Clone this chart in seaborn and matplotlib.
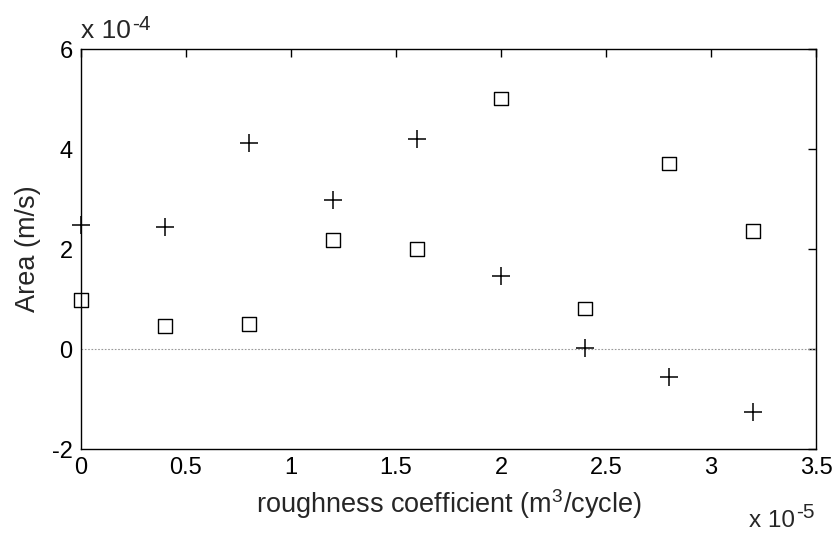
import matplotlib
matplotlib.use("Agg")
import matplotlib.pyplot as plt
import seaborn as sns
import pandas as pd

# values in units of 1e-5 (x) and 1e-4 (y)
roughness = [0.0, 0.4, 0.8, 1.2, 1.6, 2.0, 2.4, 2.8, 3.2]
area_square = [0.98, 0.46, 0.50, 2.18, 2.00, 5.01, 0.81, 3.71, 2.36]
area_plus = [2.48, 2.45, 4.12, 2.99, 4.21, 1.47, 0.02, -0.56, -1.25]
x_ticks = [0, 0.5, 1, 1.5, 2, 2.5, 3, 3.5]
x_tick_labels = ["0", "0.5", "1", "1.5", "2", "2.5", "3", "3.5"]
y_ticks = [-2, 0, 2, 4, 6]
y_tick_labels = ["-2", "0", "2", "4", "6"]

sns.set_theme(style="white")
plt.rcParams["font.family"] = ["Liberation Sans", "DejaVu Sans"]
plt.rcParams["mathtext.fontset"] = "custom"
plt.rcParams["mathtext.rm"] = "Liberation Sans"
plt.rcParams["mathtext.it"] = "Liberation Sans"

df_sq = pd.DataFrame({"x": roughness, "y": area_square})
df_pl = pd.DataFrame({"x": roughness, "y": area_plus})

W, H = 838, 537
fig = plt.figure(figsize=(W / 100, H / 100), dpi=100)
ax = fig.add_axes([81 / W, 1 - 449 / H, (816 - 81) / W, (449 - 49) / H])
ax.set_facecolor("white")

ax.axhline(0, color="#999999", linestyle=(0, (1.5, 1.5)), linewidth=0.8, zorder=1)

sns.scatterplot(data=df_sq, x="x", y="y", ax=ax, marker="s", s=100,
                facecolor="none", edgecolor="black", linewidth=1.0,
                clip_on=False, zorder=3)
sns.scatterplot(data=df_pl, x="x", y="y", ax=ax, marker="+", s=170,
                color="black", linewidth=1.1, clip_on=False, zorder=3)

ax.set_xlim(0, 3.5)
ax.set_ylim(-2, 6)
ax.set_xticks(x_ticks)
ax.set_xticklabels(x_tick_labels)
ax.set_yticks(y_ticks)
ax.set_yticklabels(y_tick_labels)
ax.tick_params(direction="in", length=6, width=1.0, top=True, right=True,
               labelsize=17, colors="black", pad=6)
for s in ax.spines.values():
    s.set_visible(True)
    s.set_color("black")
    s.set_linewidth(1.0)

ax.set_xlabel("roughness coefficient (m$^3$/cycle)", fontsize=19.5, labelpad=6)
ax.set_ylabel("Area (m/s)", fontsize=19.5, labelpad=8)

# multiplier annotations (base text + raised exponent placed after it)
def multiplier(x_px, base_px, exponent, size, sup_size, raise_px):
    t = fig.text(x_px / W, 1 - base_px / H, "x 10", fontsize=size,
                 ha="left", va="baseline")
    fig.canvas.draw()
    bb = t.get_window_extent(renderer=fig.canvas.get_renderer())
    fig.text((bb.x1 + 1) / W, 1 - (base_px - raise_px) / H, exponent,
             fontsize=sup_size, ha="left", va="baseline")

multiplier(81, 38, "-4", 19, 15, 8)
multiplier(749, 527, "-5", 17.5, 15, 9)

fig.savefig("out.png", dpi=100, facecolor="white")
